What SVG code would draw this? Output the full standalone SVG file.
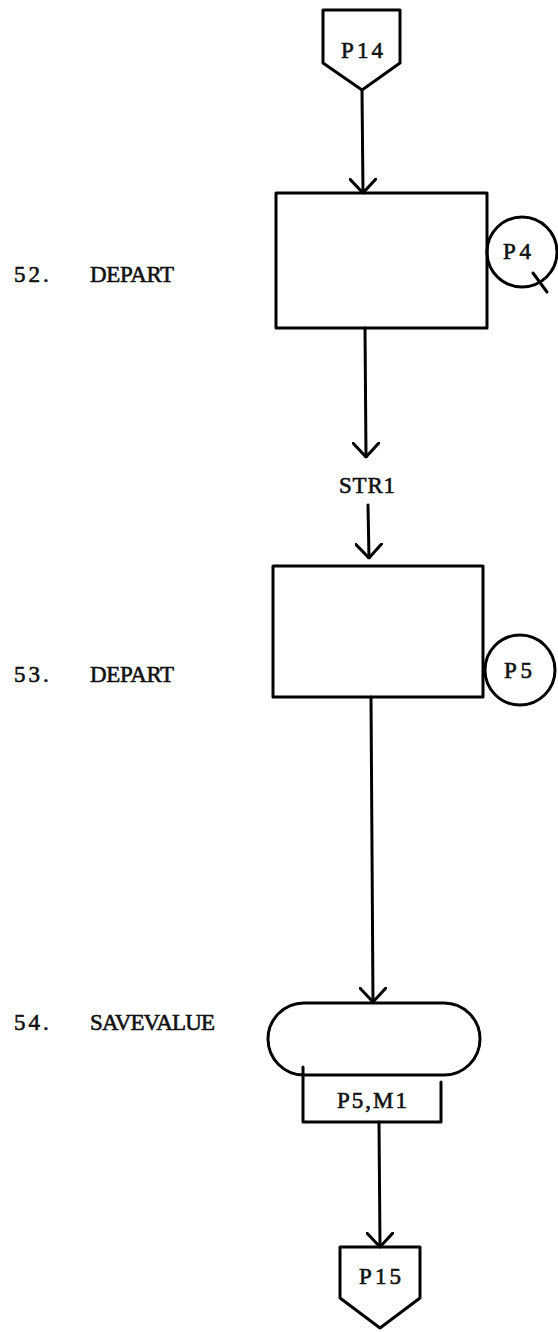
<svg xmlns="http://www.w3.org/2000/svg" width="558" height="1332" viewBox="0 0 558 1332">
<defs>
<style>
.s{fill:none;stroke:#000;stroke-width:3;stroke-linejoin:round;stroke-linecap:round}
.t{font-family:"Liberation Serif","Times New Roman",serif;font-size:23px;fill:#111;stroke:#111;stroke-width:0.6}
.n{letter-spacing:3px}
.c{text-anchor:middle}
</style>
<marker id="ah" viewBox="0 0 16 28" refX="15" refY="14" markerWidth="16" markerHeight="28" markerUnits="userSpaceOnUse" orient="auto">
<path d="M1,1 L15,14 L1,27" fill="none" stroke="#000" stroke-width="3" stroke-linecap="round" stroke-linejoin="round"/>
</marker>
</defs>
<rect width="558" height="1332" fill="#fff"/>
<g id="connectors">
<line class="s" x1="362" y1="90" x2="363" y2="193" marker-end="url(#ah)"/>
<line class="s" x1="365" y1="328" x2="366" y2="457" marker-end="url(#ah)"/>
<line class="s" x1="368" y1="505" x2="369" y2="558" marker-end="url(#ah)"/>
<line class="s" x1="371" y1="697" x2="373" y2="1002" marker-end="url(#ah)"/>
<line class="s" x1="379" y1="1122" x2="380" y2="1247" marker-end="url(#ah)"/>
</g>
<g id="p14">
<path class="s" d="M323,10 L400,10 L400,63 L362,90 L323,63 Z"/>
<text class="t c" x="362" y="58" textLength="42" lengthAdjust="spacing">P14</text>
</g>
<g id="n52">
<rect class="s" x="276" y="193" width="211" height="135"/>
<text class="t n" x="14" y="282">52.</text>
<text class="t" x="90" y="282" textLength="84" lengthAdjust="spacing">DEPART</text>
</g>
<g id="p4">
<circle class="s" cx="522" cy="252" r="35"/>
<text class="t c" x="517" y="259" textLength="28" lengthAdjust="spacing">P4</text>
<line class="s" x1="533" y1="273" x2="547" y2="292"/>
</g>
<g id="str1">
<text class="t c" x="367" y="493" textLength="56" lengthAdjust="spacing">STR1</text>
</g>
<g id="n53">
<rect class="s" x="273" y="566" width="210" height="131"/>
<text class="t n" x="14" y="682">53.</text>
<text class="t" x="90" y="682" textLength="84" lengthAdjust="spacing">DEPART</text>
</g>
<g id="p5">
<circle class="s" cx="520" cy="670" r="35"/>
<text class="t c" x="518" y="678" textLength="28" lengthAdjust="spacing">P5</text>
</g>
<g id="n54">
<rect class="s" x="268" y="1003" width="212" height="72" rx="36" ry="36"/>
<path class="s" d="M303,1067 L303,1122 L441,1122 L441,1082"/>
<text class="t c" x="372" y="1108" textLength="70" lengthAdjust="spacing">P5,M1</text>
<text class="t n" x="14" y="1030">54.</text>
<text class="t" x="90" y="1030" textLength="125" lengthAdjust="spacing">SAVEVALUE</text>
</g>
<g id="p15">
<path class="s" d="M340,1247 L420,1247 L420,1298 L380,1328 L340,1298 Z"/>
<text class="t c" x="380" y="1284" textLength="42" lengthAdjust="spacing">P15</text>
</g>
</svg>
